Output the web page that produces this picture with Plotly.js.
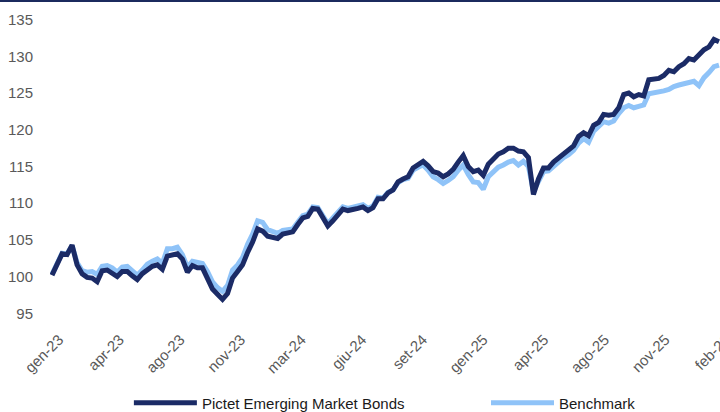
<!DOCTYPE html>
<html><head><meta charset="utf-8">
<script src="https://cdn.plot.ly/plotly-3.0.1.min.js"></script>
<style>html,body{margin:0;padding:0;background:#fff;overflow:hidden}#topbar{position:absolute;left:0;top:0;width:720px;height:2px;background:#1b2a5e;z-index:10}#chart{width:720px;height:412px}</style>
</head><body><div id="topbar"></div><div id="chart"></div>
<script>
const tickLabels = ["gen-23","apr-23","ago-23","nov-23","mar-24","giu-24","set-24","gen-25","apr-25","ago-25","nov-25","feb-26"];
const pictet = [100.2,101.5,103.1,103.0,104.3,101.6,100.4,99.9,99.8,99.3,100.8,100.9,100.5,100.0,100.7,100.7,100.1,99.6,100.4,101.0,101.4,101.6,101.0,102.8,102.9,103.1,102.4,100.6,101.5,101.2,101.2,99.9,98.3,97.6,96.9,97.7,99.8,100.7,101.6,103.3,104.7,106.5,106.2,105.5,105.4,105.2,105.8,106.0,106.1,107.1,108.0,108.2,109.3,109.2,108.0,106.9,107.6,108.5,109.2,109.0,109.1,109.3,109.5,109.0,109.4,110.6,110.6,111.4,111.8,112.9,113.3,113.6,114.8,115.2,115.7,115.1,114.3,114.1,113.6,114.0,114.6,115.6,116.5,115.0,114.3,114.5,113.8,115.3,116.0,116.7,117.0,117.5,117.5,117.1,117.0,116.2,111.2,113.3,114.8,114.8,115.6,116.1,116.7,117.2,117.8,119.1,119.6,119.2,120.6,121.0,122.1,122.0,122.1,123.0,124.8,125.0,124.5,124.8,124.6,126.8,126.9,127.0,127.4,128.1,127.9,128.6,129.0,129.7,129.5,130.2,130.9,131.3,132.3,132.0];
const benchmark = [100.3,101.6,103.2,103.1,104.2,101.9,100.8,100.6,100.7,100.3,101.4,101.5,101.2,100.6,101.3,101.4,100.7,100.2,100.9,101.7,102.1,102.4,101.8,103.8,103.8,104.0,103.0,101.3,102.1,101.9,101.8,100.7,99.3,98.5,98.0,98.8,100.9,101.6,102.6,104.4,105.8,107.6,107.4,106.4,106.1,105.9,106.3,106.4,106.5,107.4,108.3,108.5,109.5,109.4,108.3,107.2,108.0,108.8,109.5,109.3,109.5,109.6,109.8,109.3,109.6,110.8,110.7,111.5,111.8,112.8,113.2,113.4,114.5,114.9,115.2,114.5,113.6,113.2,112.7,113.1,113.6,114.5,115.2,113.9,112.9,112.8,111.9,113.6,114.2,114.9,115.2,115.6,115.8,115.2,115.7,115.0,111.6,113.0,114.3,114.4,115.1,115.6,116.2,116.6,117.2,118.2,118.8,118.3,119.8,120.5,121.1,120.9,121.2,122.2,123.0,123.3,123.0,123.2,123.4,124.9,125.0,125.2,125.3,125.5,125.9,126.1,126.3,126.5,126.6,126.0,127.1,127.8,128.6,128.8];
const seriesNames = ["Pictet Emerging Market Bonds","Benchmark"];

const n = pictet.length;
const idx = pictet.map((_, i) => i);
const tickVals = tickLabels.map((_, i) => i * (n - 1) / (tickLabels.length - 1));

const traces = [
  {x: idx, y: benchmark, name: seriesNames[1], type: 'scatter', mode: 'lines',
   line: {color: '#8fc3f8', width: 5}, legend: 'legend2'},
  {x: idx, y: pictet, name: seriesNames[0], type: 'scatter', mode: 'lines',
   line: {color: '#1b2b66', width: 5}, legend: 'legend'}
];
const legendBase = {orientation: 'h', xref: 'container', yref: 'container', xanchor: 'left', yanchor: 'middle',
  y: 0.022, font: {size: 15, color: '#1a1a1a'}, itemwidth: 63, bgcolor: 'rgba(0,0,0,0)'};
const layout = {
  width: 720, height: 412,
  margin: {l: 50, r: 0, t: 16, b: 95, autoexpand: false},
  paper_bgcolor: '#fff', plot_bgcolor: '#fff',
  font: {family: 'Liberation Sans, Arial, sans-serif', size: 15, color: '#595959'},
  showlegend: true,
  legend: Object.assign({}, legendBase, {x: 0.179}),
  legend2: Object.assign({}, legendBase, {x: 0.675}),
  xaxis: {range: [-0.4, n - 1 + 0.2], tickmode: 'array', tickvals: tickVals, ticktext: tickLabels,
    tickangle: -45, showgrid: false, zeroline: false, showline: false, ticks: '', ticklabelstandoff: 10,
    ticklabelshift: 7, ticklabeloverflow: 'allow', automargin: false},
  yaxis: {range: [94.5, 135.5], tickvals: [95,100,105,110,115,120,125,130,135], showgrid: false,
    zeroline: false, showline: false, ticks: '', ticklabelstandoff: 16, automargin: false}
};
Plotly.newPlot('chart', traces, layout, {displayModeBar: false, staticPlot: true});
</script></body></html>
